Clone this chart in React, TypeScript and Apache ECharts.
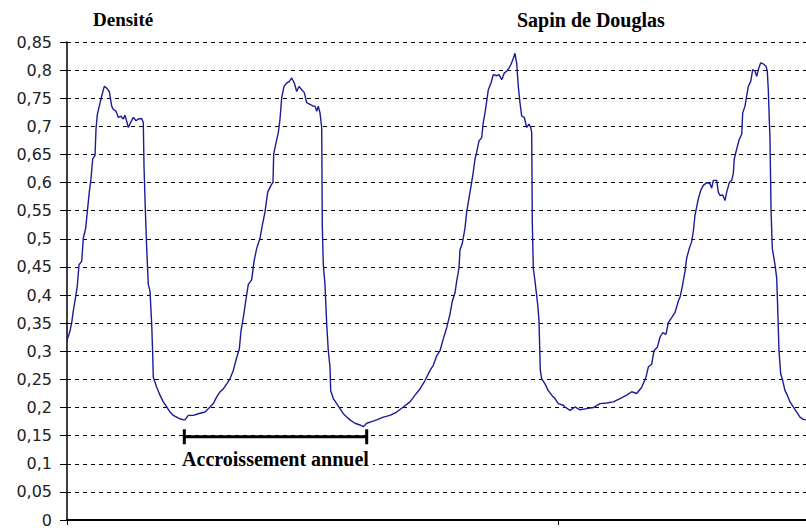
import React, { useEffect, useRef } from "react";
import * as echarts from "echarts";

// Position along the sample (arbitrary units) and measured wood density
const positions: number[] = [
  0, 3, 4.7, 6.3, 9, 10.3, 12, 14.7, 16.3, 18.7, 20.3, 22.3, 24, 25.7, 28, 29, 30.3, 32.3, 34.7, 37.3,
  39.7, 42.3, 44.7, 46.3, 49, 51.3, 54, 56.3, 58, 59.7, 61.3, 63.7, 66.3, 69, 71.3, 74.7, 76.3, 77, 78.3, 79.7,
  81.3, 83, 84.7, 85.7, 86.3, 89.7, 93, 96.3, 99.7, 103, 106.3, 109.7, 113, 116.3, 118, 121.3, 126.3, 131.3, 138, 143,
  146.3, 149.7, 153, 156.3, 159.7, 163, 166.3, 169.7, 172.3, 174, 176.3, 178.7, 181.3, 184.7, 187, 189.7, 193, 195.3, 198, 200.7,
  204, 206, 206.7, 208.7, 211.3, 213, 214.7, 217, 219.7, 222.3, 224.7, 227.3, 229.7, 232, 234.7, 237.3, 239.7, 243, 246.3, 248,
  249.7, 251.3, 253, 254.7, 255.3, 256.3, 258, 259.7, 261.3, 263, 263.7, 266.3, 269.7, 273, 276.3, 279.7, 283, 288, 293, 296.3,
  299.7, 304.7, 309.7, 316.3, 323, 329.7, 336.3, 343, 348, 353, 358, 363, 366.3, 369.7, 373, 376.3, 379.7, 383, 385.3, 388,
  389.7, 392, 393, 395.3, 398, 399.7, 401.3, 403, 404.7, 406.3, 408, 409.7, 412, 414.7, 416.3, 418, 419.7, 421.3, 424, 426.3,
  429.7, 432, 434.7, 437.3, 439.7, 442, 444, 446.3, 448, 449.7, 451.3, 453, 454.7, 457.3, 459.7, 462, 463.7, 464.7, 465.3, 466.3,
  468, 470.7, 472, 473.3, 474.7, 478, 481.3, 484.7, 488, 491.3, 496.3, 498, 503, 508, 513, 519.7, 526.3, 533, 539.7, 546.3,
  553, 559.7, 564.7, 569.7, 574.7, 579, 581.3, 584.7, 587, 590.3, 593, 595.7, 599, 601.3, 604.7, 608, 611.3, 613.3, 615.7, 618,
  619.7, 622.3, 624.7, 626.3, 628, 629.7, 631.3, 633.7, 636.3, 639.7, 643, 644.7, 646.3, 649.7, 651.3, 653, 655.7, 658, 659.7, 662.3,
  664.7, 666.3, 667.3, 669.7, 672.3, 674.7, 675.7, 678, 679.7, 681.3, 683.7, 685.7, 688, 689.7, 691.3, 693.7, 696.3, 699, 700.3, 701.3,
  703, 704, 705.3, 708, 709.7, 710.7, 712, 713.7, 715.7, 718, 720.3, 723, 726.3, 729.7, 733, 736.3, 739,
];

const densities: number[] = [
  0.319, 0.336, 0.351, 0.372, 0.401, 0.416, 0.454, 0.46, 0.501, 0.519, 0.548, 0.583, 0.607, 0.642, 0.648, 0.695, 0.721, 0.736, 0.754, 0.771,
  0.768, 0.762, 0.736, 0.73, 0.727, 0.716, 0.718, 0.713, 0.72, 0.709, 0.698, 0.707, 0.716, 0.71, 0.713, 0.714, 0.707, 0.63, 0.554, 0.483,
  0.419, 0.407, 0.348, 0.295, 0.254, 0.236, 0.222, 0.21, 0.201, 0.192, 0.186, 0.183, 0.18, 0.178, 0.178, 0.186, 0.186, 0.189, 0.192, 0.201,
  0.207, 0.219, 0.228, 0.233, 0.242, 0.251, 0.266, 0.289, 0.304, 0.336, 0.36, 0.389, 0.419, 0.427, 0.46, 0.483, 0.501, 0.524, 0.548, 0.583,
  0.595, 0.601, 0.651, 0.668, 0.689, 0.713, 0.751, 0.771, 0.777, 0.78, 0.786, 0.777, 0.762, 0.771, 0.765, 0.76, 0.742, 0.739, 0.736, 0.736,
  0.727, 0.736, 0.724, 0.698, 0.524, 0.454, 0.419, 0.348, 0.301, 0.272, 0.23, 0.216, 0.207, 0.198, 0.189, 0.183, 0.178, 0.172, 0.169, 0.166,
  0.172, 0.175, 0.178, 0.183, 0.186, 0.192, 0.201, 0.21, 0.222, 0.233, 0.248, 0.266, 0.275, 0.292, 0.301, 0.322, 0.342, 0.366, 0.389, 0.404,
  0.425, 0.448, 0.48, 0.492, 0.519, 0.548, 0.565, 0.583, 0.601, 0.619, 0.642, 0.654, 0.674, 0.68, 0.707, 0.724, 0.745, 0.765, 0.777, 0.792,
  0.79, 0.792, 0.783, 0.795, 0.798, 0.804, 0.81, 0.821, 0.83, 0.812, 0.771, 0.742, 0.718, 0.716, 0.698, 0.704, 0.698, 0.689, 0.53, 0.448,
  0.425, 0.383, 0.354, 0.266, 0.251, 0.242, 0.23, 0.222, 0.216, 0.207, 0.204, 0.201, 0.195, 0.201, 0.196, 0.198, 0.2, 0.207, 0.208, 0.21,
  0.216, 0.222, 0.228, 0.225, 0.236, 0.254, 0.272, 0.277, 0.301, 0.307, 0.325, 0.333, 0.33, 0.351, 0.36, 0.369, 0.389, 0.398, 0.419, 0.442,
  0.466, 0.483, 0.495, 0.513, 0.542, 0.557, 0.571, 0.586, 0.595, 0.6, 0.598, 0.59, 0.604, 0.604, 0.583, 0.577, 0.578, 0.568, 0.583, 0.6,
  0.604, 0.616, 0.642, 0.66, 0.677, 0.686, 0.724, 0.736, 0.754, 0.771, 0.78, 0.801, 0.798, 0.789, 0.801, 0.813, 0.811, 0.807, 0.798, 0.765,
  0.677, 0.554, 0.483, 0.454, 0.43, 0.377, 0.301, 0.26, 0.248, 0.23, 0.222, 0.21, 0.201, 0.192, 0.183, 0.179, 0.178,
];

const yTicks = { min: 0, max: 0.85, step: 0.05 };
const xRange = { min: 0, max: 739, tickStep: 491 };

// Annotation "annual growth": bracket ends (position) and level (density)
const bracketPositions: number[] = [117.3, 299.7];
const bracketLevel = 0.148;
const bracketLabel = "Accroissement annuel";
const bracketLabelLevel = 0.109;

const yTitle = "Densité";
const chartTitle = "Sapin de Douglas";

export default function App() {
  const ref = useRef<HTMLDivElement>(null);

  useEffect(() => {
    if (!ref.current) return;
    const chart = echarts.init(ref.current, null, { renderer: "svg" });
    const series = positions.map((p, i) => [p, densities[i]]);
    const option: any = {
      animation: false,
      backgroundColor: "#ffffff",
      title: [
        {
          text: yTitle,
          left: 93,
          top: 10,
          padding: 0,
          textStyle: { fontFamily: "Liberation Serif", fontWeight: "bold", fontSize: 19, color: "#000" },
        },
        {
          text: chartTitle,
          left: 517,
          top: 10,
          padding: 0,
          textStyle: { fontFamily: "Liberation Serif", fontWeight: "bold", fontSize: 20, color: "#000" },
        },
      ],
      grid: { left: 67, right: 0, top: 42, bottom: 4, containLabel: false },
      xAxis: {
        type: "value",
        min: xRange.min,
        max: xRange.max,
        interval: xRange.tickStep,
        axisLine: { show: true, onZero: false, lineStyle: { color: "#000", width: 2 } },
        axisTick: { show: true, length: 5, lineStyle: { color: "#000" } },
        axisLabel: { show: false },
        splitLine: { show: false },
      },
      yAxis: {
        type: "value",
        min: yTicks.min,
        max: yTicks.max,
        interval: yTicks.step,
        axisLine: { show: true, lineStyle: { color: "#000", width: 1.5 } },
        axisTick: { show: true, length: 7, lineStyle: { color: "#000" } },
        axisLabel: {
          margin: 15,
          fontFamily: "DejaVu Sans",
          fontSize: 16,
          color: "#222",
          formatter: (v: number) => String(Math.round(v * 100) / 100).replace(".", ","),
        },
        splitLine: { show: true, lineStyle: { color: "#000", type: [4, 4], width: 1 } },
      },
      series: [
        {
          type: "line",
          data: series,
          showSymbol: false,
          symbol: "none",
          lineStyle: { color: "#1c1c96", width: 1.4 },
          z: 3,
        },
        {
          type: "line",
          data: bracketPositions.map((p) => [p, bracketLevel]),
          symbol: "rect",
          symbolSize: [3, 15],
          showSymbol: true,
          showAllSymbol: true,
          itemStyle: { color: "#000" },
          lineStyle: { color: "#000", width: 3 },
          z: 4,
        },
      ],
    };
    chart.setOption(option);
    const mid = (bracketPositions[0] + bracketPositions[1]) / 2;
    const pt = chart.convertToPixel({ gridIndex: 0 }, [mid, bracketLabelLevel]) as number[];
    chart.setOption({
      graphic: [
        {
          type: "text",
          x: pt[0],
          y: pt[1],
          z: 10,
          style: {
            text: bracketLabel,
            fontFamily: "Liberation Serif",
            fontWeight: "bold",
            fontSize: 20,
            fill: "#000",
            align: "center",
            verticalAlign: "middle",
            backgroundColor: "#fff",
            padding: [0, 4],
          },
        },
      ],
    });
    return () => chart.dispose();
  }, []);

  return (
    <div
      ref={ref}
      style={{ position: "absolute", left: 0, top: 0, width: 806, height: 528, background: "#fff" }}
    />
  );
}
